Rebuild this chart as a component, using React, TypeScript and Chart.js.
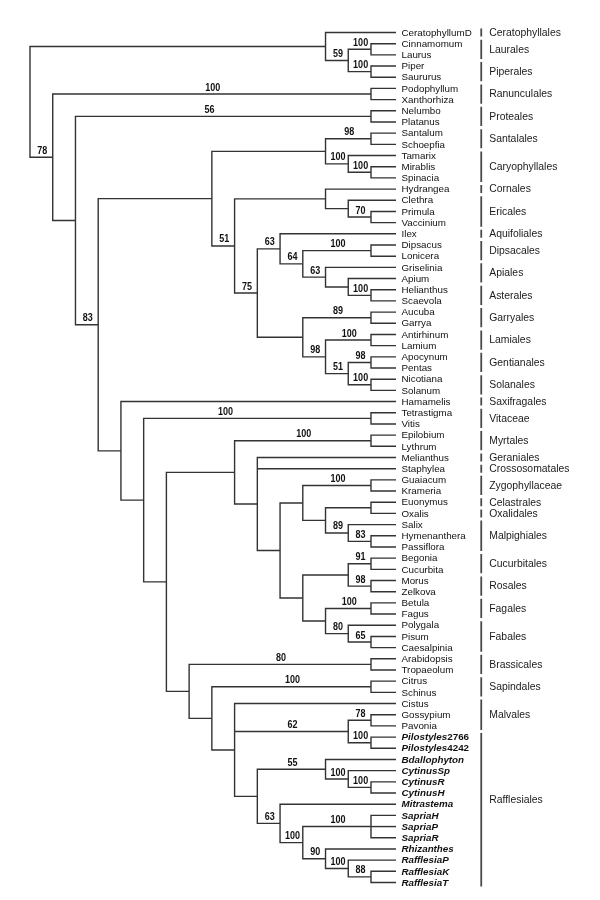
import React, { useEffect, useRef } from "react";
import { Chart, registerables } from "chart.js";

Chart.register(...registerables);

// ---- Leaves (top to bottom) ----
const LEAVES: string[] = [
  "CeratophyllumD", "Cinnamomum", "Laurus", "Piper", "Saururus",
  "Podophyllum", "Xanthorhiza", "Nelumbo", "Platanus", "Santalum",
  "Schoepfia", "Tamarix", "Mirablis", "Spinacia", "Hydrangea",
  "Clethra", "Primula", "Vaccinium", "Ilex", "Dipsacus",
  "Lonicera", "Griselinia", "Apium", "Helianthus", "Scaevola",
  "Aucuba", "Garrya", "Antirhinum", "Lamium", "Apocynum",
  "Pentas", "Nicotiana", "Solanum", "Hamamelis", "Tetrastigma",
  "Vitis", "Epilobium", "Lythrum", "Melianthus", "Staphylea",
  "Guaiacum", "Krameria", "Euonymus", "Oxalis", "Salix",
  "Hymenanthera", "Passiflora", "Begonia", "Cucurbita", "Morus",
  "Zelkova", "Betula", "Fagus", "Polygala", "Pisum",
  "Caesalpinia", "Arabidopsis", "Tropaeolum", "Citrus", "Schinus",
  "Cistus", "Gossypium", "Pavonia", "Pilostyles2766", "Pilostyles4242",
  "Bdallophyton", "CytinusSp", "CytinusR", "CytinusH", "Mitrastema",
  "SapriaH", "SapriaP", "SapriaR", "Rhizanthes", "RafflesiaP",
  "RafflesiaK", "RafflesiaT",
];

// ---- Internal nodes: [id, depth level, bootstrap support, children] ----
const NODES: [string, number, number | null, string[]][] = [
  ["root", 0, null, ["nCer", "n78"]],
  ["nCer", 13, null, ["CeratophyllumD", "n59"]],
  ["n59", 14, 59, ["nLau", "nPip"]],
  ["nLau", 15, 100, ["Cinnamomum", "Laurus"]],
  ["nPip", 15, 100, ["Piper", "Saururus"]],
  ["n78", 1, 78, ["nRan", "nEud"]],
  ["nRan", 15, 100, ["Podophyllum", "Xanthorhiza"]],
  ["nEud", 2, null, ["nPro", "n83"]],
  ["nPro", 15, 56, ["Nelumbo", "Platanus"]],
  ["n83", 3, 83, ["nAst", "nRos"]],
  ["nAst", 8, null, ["nSC", "n51"]],
  ["nSC", 13, null, ["nSan", "nCar"]],
  ["nSan", 15, 98, ["Santalum", "Schoepfia"]],
  ["nCar", 14, 100, ["Tamarix", "nMS"]],
  ["nMS", 15, 100, ["Mirablis", "Spinacia"]],
  ["n51", 9, 51, ["nCE", "n75"]],
  ["nCE", 13, null, ["Hydrangea", "nEr"]],
  ["nEr", 14, null, ["Clethra", "nPV"]],
  ["nPV", 15, 70, ["Primula", "Vaccinium"]],
  ["n75", 10, 75, ["n63a", "nLow"]],
  ["n63a", 11, 63, ["Ilex", "n64"]],
  ["n64", 12, 64, ["nDip", "n63b"]],
  ["nDip", 15, 100, ["Dipsacus", "Lonicera"]],
  ["n63b", 13, 63, ["Griselinia", "nApi"]],
  ["nApi", 14, null, ["Apium", "nAstr"]],
  ["nAstr", 15, 100, ["Helianthus", "Scaevola"]],
  ["nLow", 12, null, ["nGar", "n98"]],
  ["nGar", 15, 89, ["Aucuba", "Garrya"]],
  ["n98", 13, 98, ["nLam", "n51b"]],
  ["nLam", 15, 100, ["Antirhinum", "Lamium"]],
  ["n51b", 14, 51, ["nGen", "nSol"]],
  ["nGen", 15, 98, ["Apocynum", "Pentas"]],
  ["nSol", 15, 100, ["Nicotiana", "Solanum"]],
  ["nRos", 4, null, ["Hamamelis", "nK5"]],
  ["nK5", 5, null, ["nVit", "nK6"]],
  ["nVit", 15, 100, ["Tetrastigma", "Vitis"]],
  ["nK6", 6, null, ["nK9a", "nK7"]],
  ["nK9a", 9, null, ["nMyr", "nK10"]],
  ["nMyr", 15, 100, ["Epilobium", "Lythrum"]],
  ["nK10", 10, null, ["Melianthus", "Staphylea", "nK11"]],
  ["nK11", 11, null, ["nK12a", "nK12b"]],
  ["nK12a", 12, null, ["nZyg", "nK13a"]],
  ["nZyg", 15, 100, ["Guaiacum", "Krameria"]],
  ["nK13a", 13, null, ["nCO", "n89"]],
  ["nCO", 15, null, ["Euonymus", "Oxalis"]],
  ["n89", 14, 89, ["Salix", "n83b"]],
  ["n83b", 15, 83, ["Hymenanthera", "Passiflora"]],
  ["nK12b", 12, null, ["nK14", "nK13b"]],
  ["nK14", 14, null, ["nCuc", "nRosa"]],
  ["nCuc", 15, 91, ["Begonia", "Cucurbita"]],
  ["nRosa", 15, 98, ["Morus", "Zelkova"]],
  ["nK13b", 13, null, ["nFag", "n80"]],
  ["nFag", 15, 100, ["Betula", "Fagus"]],
  ["n80", 14, 80, ["Polygala", "n65"]],
  ["n65", 15, 65, ["Pisum", "Caesalpinia"]],
  ["nK7", 7, null, ["nBra", "nK8"]],
  ["nBra", 15, 80, ["Arabidopsis", "Tropaeolum"]],
  ["nK8", 8, null, ["nSap", "nK9b"]],
  ["nSap", 15, 100, ["Citrus", "Schinus"]],
  ["nK9b", 9, null, ["Cistus", "n62", "nK10b"]],
  ["n62", 14, 62, ["nMal", "nPil"]],
  ["nMal", 15, 78, ["Gossypium", "Pavonia"]],
  ["nPil", 15, 100, ["Pilostyles2766", "Pilostyles4242"]],
  ["nK10b", 10, null, ["n55", "n63c"]],
  ["n55", 13, 55, ["Bdallophyton", "nCyt"]],
  ["nCyt", 14, 100, ["CytinusSp", "nCRH"]],
  ["nCRH", 15, 100, ["CytinusR", "CytinusH"]],
  ["n63c", 11, 63, ["Mitrastema", "nK12c"]],
  ["nK12c", 12, 100, ["nSapr", "n90"]],
  ["nSapr", 15, 100, ["SapriaH", "SapriaP", "SapriaR"]],
  ["n90", 13, 90, ["Rhizanthes", "n100r"]],
  ["n100r", 14, 100, ["RafflesiaP", "n88"]],
  ["n88", 15, 88, ["RafflesiaK", "RafflesiaT"]],
];

// support labels that sit off-centre on their branch (level at which they are centred)
const SUPPORT_LABEL_LEVEL: Record<string, number> = { nPro: 7.9, nVit: 8.6 };

// ---- Orders: [name, first leaf, last leaf] ----
const ORDERS: [string, string, string][] = [
  ["Ceratophyllales", "CeratophyllumD", "CeratophyllumD"],
  ["Laurales", "Cinnamomum", "Laurus"],
  ["Piperales", "Piper", "Saururus"],
  ["Ranunculales", "Podophyllum", "Xanthorhiza"],
  ["Proteales", "Nelumbo", "Platanus"],
  ["Santalales", "Santalum", "Schoepfia"],
  ["Caryophyllales", "Tamarix", "Spinacia"],
  ["Cornales", "Hydrangea", "Hydrangea"],
  ["Ericales", "Clethra", "Vaccinium"],
  ["Aquifoliales", "Ilex", "Ilex"],
  ["Dipsacales", "Dipsacus", "Lonicera"],
  ["Apiales", "Griselinia", "Apium"],
  ["Asterales", "Helianthus", "Scaevola"],
  ["Garryales", "Aucuba", "Garrya"],
  ["Lamiales", "Antirhinum", "Lamium"],
  ["Gentianales", "Apocynum", "Pentas"],
  ["Solanales", "Nicotiana", "Solanum"],
  ["Saxifragales", "Hamamelis", "Hamamelis"],
  ["Vitaceae", "Tetrastigma", "Vitis"],
  ["Myrtales", "Epilobium", "Lythrum"],
  ["Geraniales", "Melianthus", "Melianthus"],
  ["Crossosomatales", "Staphylea", "Staphylea"],
  ["Zygophyllaceae", "Guaiacum", "Krameria"],
  ["Celastrales", "Euonymus", "Euonymus"],
  ["Oxalidales", "Oxalis", "Oxalis"],
  ["Malpighiales", "Salix", "Passiflora"],
  ["Cucurbitales", "Begonia", "Cucurbita"],
  ["Rosales", "Morus", "Zelkova"],
  ["Fagales", "Betula", "Fagus"],
  ["Fabales", "Polygala", "Caesalpinia"],
  ["Brassicales", "Arabidopsis", "Tropaeolum"],
  ["Sapindales", "Citrus", "Schinus"],
  ["Malvales", "Cistus", "Pavonia"],
  ["Rafflesiales", "Pilostyles2766", "RafflesiaT"],
];
// label row for orders whose label is not centred on the group
const ORDER_LABEL_ROW: Record<string, number> = { Rafflesiales: 69.6 };

const HIGHLIGHT_ORDER = "Rafflesiales";

// ---- layout constants (in scale units) ----
const LEAF_LEVEL = 16.1;
const BAR_LEVEL = 19.85;
const X_MIN = -1.3197, X_MAX = 25.074;
const Y_MIN = -1.906, Y_MAX = 78.566;

const LINE_COLOR = "#333333";
const FONT = '"Liberation Sans", Arial, Helvetica, sans-serif';

export default function App() {
  const ref = useRef<HTMLCanvasElement | null>(null);

  useEffect(() => {
    document.body.style.margin = "0";
    const canvas = ref.current;
    if (!canvas) return;

    const nodeMap: Record<string, { level: number; support: number | null; children: string[] }> = {};
    NODES.forEach(([id, level, support, children]) => {
      nodeMap[id] = { level, support, children };
    });
    const leafRow: Record<string, number> = {};
    LEAVES.forEach((n, i) => (leafRow[n] = i + 1));

    const yCache: Record<string, number> = {};
    const yOf = (id: string): number => {
      if (id in leafRow) return leafRow[id];
      if (id in yCache) return yCache[id];
      const c = nodeMap[id].children;
      const v = (yOf(c[0]) + yOf(c[c.length - 1])) / 2;
      yCache[id] = v;
      return v;
    };
    const xOf = (id: string): number => (id in leafRow ? LEAF_LEVEL : nodeMap[id].level);

    const parentOf: Record<string, string> = {};
    NODES.forEach(([id, , , children]) => children.forEach((c) => (parentOf[c] = id)));

    const lineDs = (data: { x: number; y: number }[], color: string, width: number) => ({
      type: "scatter" as const,
      data,
      showLine: true,
      borderColor: color,
      backgroundColor: color,
      borderWidth: width,
      pointRadius: 0,
      pointHoverRadius: 0,
      fill: false,
      tension: 0,
    });

    const datasets: any[] = [];
    NODES.forEach(([id, level, , children]) => {
      const first = children[0];
      const last = children[children.length - 1];
      datasets.push(
        lineDs(
          [
            { x: xOf(first), y: yOf(first) },
            { x: level, y: yOf(first) },
            { x: level, y: yOf(last) },
            { x: xOf(last), y: yOf(last) },
          ],
          LINE_COLOR,
          1.4
        )
      );
      children.slice(1, -1).forEach((c) => {
        datasets.push(
          lineDs(
            [
              { x: level, y: yOf(c) },
              { x: xOf(c), y: yOf(c) },
            ],
            LINE_COLOR,
            1.4
          )
        );
      });
    });
    ORDERS.forEach(([, a, b]) => {
      datasets.push(
        lineDs(
          [
            { x: BAR_LEVEL, y: leafRow[a] - 0.36 },
            { x: BAR_LEVEL, y: leafRow[b] + 0.36 },
          ],
          "#4a4a4a",
          1.8
        )
      );
    });

    const highlighted = new Set<string>();
    ORDERS.forEach(([name, a, b]) => {
      if (name === HIGHLIGHT_ORDER) {
        for (let i = leafRow[a]; i <= leafRow[b]; i++) highlighted.add(LEAVES[i - 1]);
      }
    });

    const textPlugin = {
      id: "treeText",
      afterDatasetsDraw(chart: any) {
        const ctx = chart.ctx as CanvasRenderingContext2D;
        const xs = chart.scales.x;
        const ys = chart.scales.y;
        ctx.save();
        // leaf labels
        ctx.textAlign = "left";
        ctx.textBaseline = "middle";
        ctx.fillStyle = "#111111";
        const lx = xs.getPixelForValue(LEAF_LEVEL) + 5.5;
        LEAVES.forEach((name, i) => {
          const y = ys.getPixelForValue(i + 1) + 0.5;
          if (highlighted.has(name)) {
            const m = name.match(/^(\D+)(\d*)$/);
            const word = m ? m[1] : name;
            const digits = m ? m[2] : "";
            ctx.font = `italic bold 9.8px ${FONT}`;
            ctx.fillText(word, lx, y);
            if (digits) {
              const w = ctx.measureText(word).width;
              ctx.font = `bold 9.8px ${FONT}`;
              ctx.fillText(digits, lx + w, y);
            }
          } else {
            ctx.font = `9.8px ${FONT}`;
            ctx.fillText(name, lx, y);
          }
        });
        // support values
        ctx.textAlign = "center";
        ctx.textBaseline = "alphabetic";
        ctx.font = `bold 10px ${FONT}`;
        NODES.forEach(([id, level, support]) => {
          if (support == null || !parentOf[id]) return;
          let cx: number;
          if (id in SUPPORT_LABEL_LEVEL) {
            cx = xs.getPixelForValue(SUPPORT_LABEL_LEVEL[id]);
          } else {
            const px = xs.getPixelForValue(nodeMap[parentOf[id]].level);
            const nx = xs.getPixelForValue(level);
            cx = (px + nx) / 2 + 1;
          }
          const cy = ys.getPixelForValue(yOf(id)) - 3.5;
          ctx.save();
          ctx.translate(cx, cy);
          ctx.scale(0.9, 1);
          ctx.fillText(String(support), 0, 0);
          ctx.restore();
        });
        // order labels
        ctx.textAlign = "left";
        ctx.textBaseline = "middle";
        ctx.font = `10.4px ${FONT}`;
        ctx.fillStyle = "#1a1a1a";
        const ox = xs.getPixelForValue(BAR_LEVEL) + 8;
        ORDERS.forEach(([name, a, b]) => {
          const row = ORDER_LABEL_ROW[name] ?? (leafRow[a] + leafRow[b]) / 2;
          ctx.fillText(name, ox, ys.getPixelForValue(row) + 0.5);
        });
        ctx.restore();
      },
    };

    const chart = new Chart(canvas, {
      type: "scatter",
      data: { datasets },
      options: {
        responsive: false,
        animation: false,
        events: [],
        layout: { padding: 0, autoPadding: false } as any,
        plugins: { legend: { display: false }, tooltip: { enabled: false }, title: { display: false } },
        scales: {
          x: { type: "linear", min: X_MIN, max: X_MAX, display: false },
          y: { type: "linear", min: Y_MIN, max: Y_MAX, reverse: true, display: false },
        },
      },
      plugins: [textPlugin],
    });
    return () => chart.destroy();
  }, []);

  return (
    <div style={{ width: 600, height: 900, background: "#ffffff" }}>
      <canvas ref={ref} width={600} height={900} style={{ display: "block" }} />
    </div>
  );
}
